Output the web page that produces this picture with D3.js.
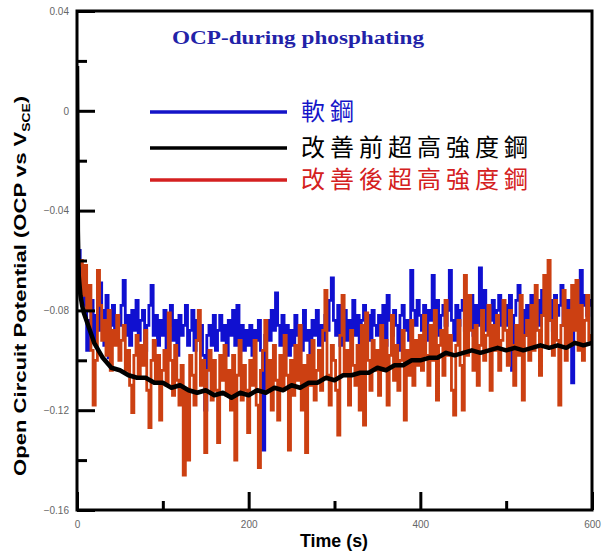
<!DOCTYPE html>
<html>
<head>
<meta charset="utf-8">
<script src="https://cdn.jsdelivr.net/npm/d3@7"></script>
<style>
    body { margin: 0; background: #fff; }
    svg { display: block; }
</style>
</head>
<body>
<div class="d3"></div>
<script>
// sample interval of the noisy OCP records (s)
var sampleStep = 2.5;

// 軟鋼 (mild steel), one value every 2.5 s from 0 to 600 s (20 per row = 50 s)
var mildSteel = [
    -0.050, -0.056, -0.066, -0.078, -0.072, -0.096, -0.084, -0.076, -0.092, -0.082, -0.088, -0.069, -0.080, -0.094, -0.074, -0.099, -0.086, -0.078, -0.090, -0.082,
    -0.086, -0.078, -0.068, -0.090, -0.082, -0.094, -0.080, -0.088, -0.076, -0.092, -0.084, -0.080, -0.096, -0.086, -0.078, -0.070, -0.090, -0.082, -0.094, -0.084,
    -0.090, -0.080, -0.096, -0.086, -0.078, -0.092, -0.084, -0.098, -0.082, -0.090, -0.086, -0.078, -0.094, -0.088, -0.080, -0.096, -0.084, -0.092, -0.086, -0.098,
    -0.120, -0.090, -0.086, -0.094, -0.082, -0.096, -0.088, -0.082, -0.092, -0.086, -0.098, -0.084, -0.090, -0.080, -0.094, -0.078, -0.092, -0.086, -0.096, -0.088,
    -0.094, -0.086, -0.098, -0.088, -0.092, -0.084, -0.096, -0.136, -0.090, -0.084, -0.092, -0.080, -0.088, -0.073, -0.086, -0.094, -0.082, -0.090, -0.086, -0.098,
    -0.088, -0.094, -0.082, -0.090, -0.086, -0.096, -0.080, -0.092, -0.088, -0.098, -0.084, -0.090, -0.080, -0.094, -0.086, -0.092, -0.082, -0.088, -0.076, -0.067,
    -0.084, -0.090, -0.078, -0.094, -0.086, -0.080, -0.092, -0.084, -0.088, -0.076, -0.090, -0.082, -0.096, -0.084, -0.078, -0.088, -0.082, -0.092, -0.080, -0.086,
    -0.090, -0.082, -0.088, -0.078, -0.094, -0.074, -0.084, -0.090, -0.080, -0.086, -0.096, -0.082, -0.078, -0.088, -0.084, -0.092, -0.064, -0.080, -0.086, -0.076,
    -0.082, -0.088, -0.078, -0.092, -0.080, -0.084, -0.066, -0.086, -0.076, -0.090, -0.082, -0.078, -0.086, -0.080, -0.064, -0.084, -0.092, -0.078, -0.086, -0.080,
    -0.076, -0.088, -0.080, -0.084, -0.074, -0.090, -0.078, -0.086, -0.063, -0.082, -0.072, -0.088, -0.078, -0.084, -0.076, -0.090, -0.080, -0.074, -0.086, -0.080,
    -0.078, -0.086, -0.074, -0.104, -0.082, -0.076, -0.070, -0.086, -0.080, -0.090, -0.078, -0.084, -0.074, -0.088, -0.080, -0.076, -0.086, -0.072, -0.082, -0.078,
    -0.084, -0.076, -0.088, -0.074, -0.082, -0.078, -0.070, -0.086, -0.080, -0.076, -0.090, -0.109, -0.082, -0.076, -0.084, -0.064, -0.078, -0.074, -0.082, -0.076,
    -0.078
];

// 改善後超高強度鋼 (improved UHSS), same sampling
var improvedSteel = [
    -0.040, -0.062, -0.060, -0.074, -0.062, -0.080, -0.070, -0.096, -0.118, -0.100, -0.064, -0.078, -0.092, -0.084, -0.098, -0.080, -0.104, -0.088, -0.094, -0.082,
    -0.100, -0.092, -0.086, -0.104, -0.096, -0.110, -0.121, -0.098, -0.090, -0.106, -0.094, -0.102, -0.088, -0.112, -0.127, -0.100, -0.092, -0.108, -0.098, -0.124,
    -0.104, -0.096, -0.110, -0.081, -0.100, -0.114, -0.094, -0.108, -0.118, -0.102, -0.146, -0.112, -0.140, -0.098, -0.106, -0.118, -0.092, -0.080, -0.110, -0.100,
    -0.137, -0.104, -0.096, -0.116, -0.100, -0.112, -0.133, -0.098, -0.108, -0.094, -0.114, -0.104, -0.120, -0.098, -0.140, -0.106, -0.092, -0.116, -0.102, -0.112,
    -0.129, -0.100, -0.110, -0.092, -0.118, -0.143, -0.104, -0.096, -0.084, -0.112, -0.100, -0.120, -0.094, -0.108, -0.124, -0.098, -0.112, -0.090, -0.106, -0.136,
    -0.100, -0.114, -0.094, -0.108, -0.086, -0.120, -0.102, -0.137, -0.098, -0.110, -0.092, -0.116, -0.104, -0.096, -0.112, -0.088, -0.072, -0.106, -0.118, -0.094,
    -0.100, -0.112, -0.130, -0.090, -0.074, -0.106, -0.096, -0.118, -0.088, -0.102, -0.110, -0.094, -0.120, -0.086, -0.126, -0.081, -0.100, -0.112, -0.092, -0.104,
    -0.096, -0.114, -0.086, -0.104, -0.092, -0.118, -0.098, -0.082, -0.108, -0.094, -0.112, -0.100, -0.088, -0.124, -0.096, -0.106, -0.084, -0.110, -0.092, -0.102,
    -0.090, -0.104, -0.082, -0.098, -0.110, -0.086, -0.100, -0.080, -0.116, -0.094, -0.088, -0.106, -0.076, -0.098, -0.090, -0.112, -0.122, -0.094, -0.084, -0.102,
    -0.120, -0.066, -0.098, -0.074, -0.088, -0.104, -0.086, -0.110, -0.094, -0.080, -0.100, -0.090, -0.078, -0.112, -0.086, -0.096, -0.082, -0.104, -0.092, -0.076,
    -0.088, -0.102, -0.080, -0.094, -0.110, -0.086, -0.098, -0.074, -0.116, -0.090, -0.084, -0.100, -0.078, -0.096, -0.070, -0.088, -0.106, -0.082, -0.066, -0.094,
    -0.060, -0.084, -0.098, -0.076, -0.092, -0.118, -0.086, -0.072, -0.100, -0.080, -0.094, -0.070, -0.088, -0.068, -0.096, -0.078, -0.100, -0.084, -0.074, -0.092,
    -0.090
];

// 改善前超高強度鋼 (original UHSS), smooth record
var originalTime = [0, 1, 2, 4, 6, 8, 12, 16, 20, 25,
    30, 40, 50, 60, 70, 80, 90, 100, 110, 120, 130, 140, 150, 160, 170, 180, 190, 200,
    210, 220, 230, 240, 250, 260, 270, 280, 290, 300, 310, 320, 330, 340, 350, 360,
    370, 380, 390, 400, 410, 420, 430, 440, 450, 460, 470, 480, 490, 500, 510, 520,
    530, 540, 550, 560, 570, 580, 590, 600];
var originalSteel = [0.018, -0.048, -0.066, -0.074, -0.078, -0.081, -0.085, -0.089, -0.093, -0.096,
    -0.099, -0.103, -0.104, -0.106, -0.107, -0.107, -0.109, -0.109, -0.111, -0.110, -0.112, -0.113, -0.112, -0.114, -0.113, -0.115, -0.113, -0.114,
    -0.112, -0.113, -0.111, -0.112, -0.110, -0.111, -0.109, -0.109, -0.107, -0.108, -0.106, -0.106, -0.105, -0.105, -0.103, -0.104,
    -0.102, -0.102, -0.100, -0.100, -0.099, -0.099, -0.097, -0.098, -0.097, -0.096, -0.097, -0.096, -0.095, -0.096, -0.095, -0.096,
    -0.095, -0.094, -0.095, -0.094, -0.095, -0.093, -0.094, -0.093];

var yTicks = [0.04, 0, -0.04, -0.08, -0.12, -0.16];
var yMinorTicks = [0.02, -0.02, -0.06, -0.10, -0.14];
var xTicks = [0, 200, 400, 600];
var xMinorTicks = [100, 300, 500];

var legendNames = ['軟鋼', '改善前超高強度鋼', '改善後超高強度鋼'];
var legendColors = ['#1414c8', '#000000', '#d42020'];

var width = 611, height = 553;
var plotBox = { x0: 77, x1: 592, y0: 11, y1: 510 };

var x = d3.scaleLinear().domain([0, 600]).range([plotBox.x0, plotBox.x1]);
var y = d3.scaleLinear().domain([-0.16, 0.04]).range([plotBox.y1, plotBox.y0]);

var svg = d3.select('div.d3')
    .append('svg')
    .attr('width', width)
    .attr('height', height)
    .style('font-family', 'Arial, "Liberation Sans", sans-serif');

svg.append('clipPath').attr('id', 'plot')
    .append('rect')
    .attr('x', plotBox.x0).attr('y', plotBox.y0)
    .attr('width', plotBox.x1 - plotBox.x0).attr('height', plotBox.y1 - plotBox.y0);

// noisy series as step lines
var stepLine = d3.line()
    .x(function(d, i) { return x(i * sampleStep); })
    .y(function(d) { return y(d); })
    .curve(d3.curveStep);

var data = svg.append('g').attr('clip-path', 'url(#plot)');

data.append('path')
    .datum(mildSteel)
    .attr('d', stepLine)
    .attr('fill', 'none')
    .attr('stroke', '#1010d0')
    .attr('stroke-width', 2.8);

data.append('path')
    .datum(improvedSteel)
    .attr('d', stepLine)
    .attr('fill', 'none')
    .attr('stroke', '#cc4012')
    .attr('stroke-width', 2.8);

var smoothLine = d3.line()
    .x(function(d, i) { return x(originalTime[i]); })
    .y(function(d) { return y(d); });

data.append('path')
    .datum(originalSteel)
    .attr('d', smoothLine)
    .attr('fill', 'none')
    .attr('stroke', '#000')
    .attr('stroke-width', 4.5)
    .attr('stroke-linejoin', 'round');

// frame
svg.append('rect')
    .attr('x', plotBox.x0).attr('y', plotBox.y0)
    .attr('width', plotBox.x1 - plotBox.x0).attr('height', plotBox.y1 - plotBox.y0)
    .attr('fill', 'none')
    .attr('stroke', '#000')
    .attr('stroke-width', 3);

// axes with inward ticks
var yAxis = d3.axisLeft(y).tickValues(yTicks).tickSize(-18).tickPadding(8)
    .tickFormat(function(d) { return d === 0 ? '0' : d3.format('.2f')(d); });
var yMinor = d3.axisLeft(y).tickValues(yMinorTicks).tickSize(-10).tickFormat('');
var xAxis = d3.axisBottom(x).tickValues(xTicks).tickSize(-18).tickPadding(11);
var xMinor = d3.axisBottom(x).tickValues(xMinorTicks).tickSize(-9).tickFormat('');

[svg.append('g').attr('transform', 'translate(' + plotBox.x0 + ',0)').call(yAxis),
 svg.append('g').attr('transform', 'translate(' + plotBox.x0 + ',0)').call(yMinor),
 svg.append('g').attr('transform', 'translate(0,' + plotBox.y1 + ')').call(xAxis),
 svg.append('g').attr('transform', 'translate(0,' + plotBox.y1 + ')').call(xMinor)
].forEach(function(g) {
    g.select('.domain').remove();
    g.selectAll('.tick line').attr('stroke', '#000').attr('stroke-width', 3);
    g.selectAll('.tick text')
        .attr('fill', '#666')
        .style('font-size', '10px')
        .style('font-family', 'Arial, "Liberation Sans", sans-serif');
});

// titles
svg.append('text')
    .attr('x', 298).attr('y', 44)
    .attr('text-anchor', 'middle')
    .attr('fill', '#2222a8')
    .style('font-family', '"Liberation Serif", "Times New Roman", serif')
    .style('font-weight', 'bold')
    .style('font-size', '18px')
    .attr('textLength', 252)
    .attr('lengthAdjust', 'spacingAndGlyphs')
    .text('OCP-during phosphating');

svg.append('text')
    .attr('x', 334).attr('y', 547)
    .attr('text-anchor', 'middle')
    .style('font-weight', 'bold')
    .style('font-size', '18px')
    .attr('textLength', 68)
    .attr('lengthAdjust', 'spacingAndGlyphs')
    .text('Time (s)');

var yTitle = svg.append('text')
    .attr('transform', 'translate(26,286) rotate(-90)')
    .attr('text-anchor', 'middle')
    .style('font-weight', 'bold')
    .style('font-size', '16px')
    .attr('textLength', 380)
    .attr('lengthAdjust', 'spacingAndGlyphs');
yTitle.append('tspan').text('Open Circuit Potential (OCP vs V');
yTitle.append('tspan').attr('dy', 4).style('font-size', '10px').text('SCE');
yTitle.append('tspan').attr('dy', -4).text(')');

// legend
var legend = svg.selectAll('.legend')
    .data(legendNames)
    .enter()
    .append('g')
    .attr('class', 'legend')
    .attr('transform', function(d, i) { return 'translate(0,' + [112, 148, 180][i] + ')'; });

legend.append('line')
    .attr('x1', 150).attr('x2', 287)
    .attr('stroke', function(d, i) { return legendColors[i]; })
    .attr('stroke-width', 3.5);

legend.append('text')
    .attr('x', 301).attr('y', 8)
    .attr('fill', function(d, i) { return legendColors[i]; })
    .style('font-family', '"Noto Sans CJK TC", "Noto Sans CJK SC", sans-serif')
    .style('font-size', '24px')
    .style('letter-spacing', '5px')
    .text(function(d) { return d; });
</script>
</body>
</html>
